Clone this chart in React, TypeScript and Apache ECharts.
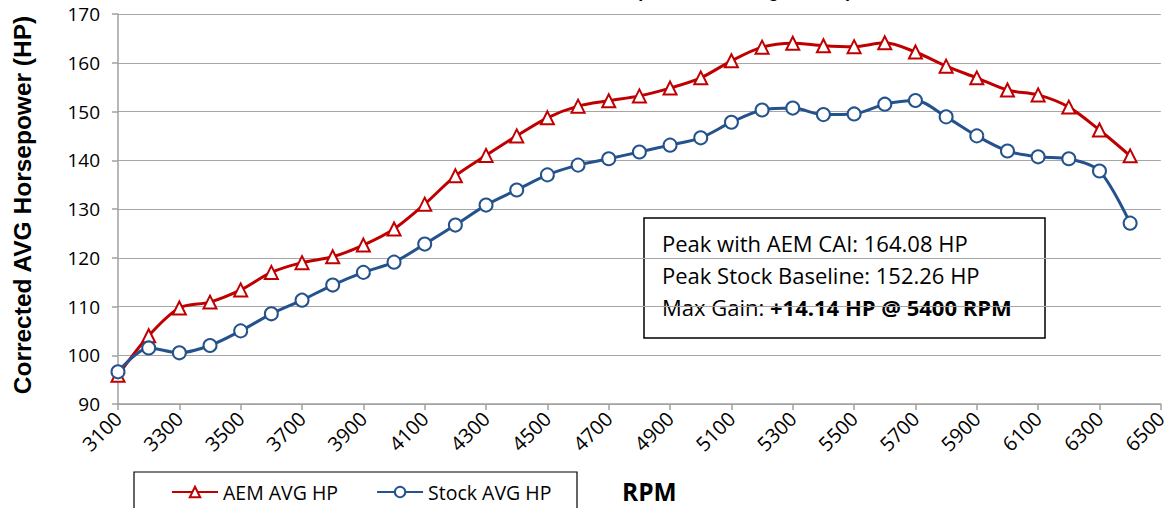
import React, { useEffect, useRef } from "react";
import * as echarts from "echarts";

const rpm: string[] = [
  "3100", "3200", "3300", "3400", "3500", "3600", "3700", "3800", "3900", "4000",
  "4100", "4200", "4300", "4400", "4500", "4600", "4700", "4800", "4900", "5000",
  "5100", "5200", "5300", "5400", "5500", "5600", "5700", "5800", "5900", "6000",
  "6100", "6200", "6300", "6400", "6500",
];

const aemHP: (number | null)[] = [
  95.9, 104.0, 109.7, 110.9, 113.4, 117.0, 119.0, 120.2, 122.6, 125.9,
  131.0, 136.8, 141.0, 145.0, 148.7, 151.1, 152.2, 153.2, 154.8, 156.9,
  160.4, 163.2, 164.0, 163.5, 163.3, 164.08, 162.2, 159.3, 156.9, 154.4,
  153.4, 150.9, 146.2, 140.9, null,
];

const stockHP: (number | null)[] = [
  96.6, 101.5, 100.5, 102.0, 105.0, 108.5, 111.3, 114.4, 117.0, 119.1,
  122.8, 126.7, 130.8, 133.9, 137.0, 139.0, 140.3, 141.7, 143.1, 144.6,
  147.8, 150.3, 150.7, 149.36, 149.5, 151.5, 152.26, 148.9, 145.0, 141.9,
  140.7, 140.3, 137.8, 127.1, null,
];

const yTicks = { min: 90, max: 170, interval: 10 };

const annotationLines: string[] = [
  "Peak with AEM CAI: 164.08 HP",
  "Peak Stock Baseline: 152.26 HP",
];
const gainLabel = "Max Gain: ";
const gainValue = "+14.14 HP @ 5400 RPM";

const RED = "#C00000";
const BLUE = "#24528C";
const FONT = "'Open Sans', 'Noto Sans', sans-serif";

export default function App() {
  const ref = useRef<HTMLDivElement>(null);

  useEffect(() => {
    if (!ref.current) return;
    const chart = echarts.init(ref.current, undefined, { renderer: "svg" });
    chart.setOption({
      animation: false,
      backgroundColor: "#fff",
      grid: { left: 118, right: 7, top: 14, bottom: 104, containLabel: false },
      xAxis: {
        type: "category",
        data: rpm,
        boundaryGap: false,
        axisLine: { show: true, lineStyle: { color: "#A0A0A0", width: 1.5 } },
        axisTick: { show: true, interval: 1, length: 6, lineStyle: { color: "#A0A0A0", width: 1.5 } },
        axisLabel: {
          interval: 1,
          rotate: 45,
          margin: 11,
          fontSize: 20,
          fontFamily: FONT,
          color: "#000",
        },
        splitLine: { show: false },
      },
      yAxis: {
        type: "value",
        min: yTicks.min,
        max: yTicks.max,
        interval: yTicks.interval,
        axisLine: { show: true, lineStyle: { color: "#A0A0A0", width: 1.5 } },
        axisTick: { show: true, length: 6, lineStyle: { color: "#A0A0A0", width: 1.5 } },
        axisLabel: { margin: 18, fontSize: 19, fontFamily: FONT, color: "#000" },
        splitLine: { show: true, lineStyle: { color: "#A6A6A6", width: 1.2 } },
      },
      legend: {
        left: 166,
        top: 477,
        itemWidth: 46,
        itemHeight: 13,
        itemGap: 38,
        textStyle: { fontSize: 19.5, fontFamily: FONT, color: "#000" },
        data: ["AEM AVG HP", "Stock AVG HP"],
      },
      series: [
        {
          name: "AEM AVG HP",
          type: "line",
          data: aemHP,
          smooth: 0.3,
          symbol: "emptyTriangle",
          symbolSize: 13,
          lineStyle: { color: RED, width: 3 },
          itemStyle: { color: RED, borderColor: RED, borderWidth: 2.2 },
        },
        {
          name: "Stock AVG HP",
          type: "line",
          data: stockHP,
          smooth: 0.3,
          symbol: "emptyCircle",
          symbolSize: 13,
          lineStyle: { color: BLUE, width: 3 },
          itemStyle: { color: BLUE, borderColor: BLUE, borderWidth: 2.2 },
        },
      ],
      graphic: [
        {
          type: "text",
          x: 898,
          y: -18,
          style: {
            text: "AEM CAI vs Stock Comparison - Average Horsepower",
            font: "bold 18px 'Liberation Sans', Arial, sans-serif",
            fill: "#000",
            align: "right",
          },
        },
        {
          type: "text",
          x: 22,
          y: 205,
          rotation: Math.PI / 2,
          style: {
            text: "Corrected AVG Horsepower (HP)",
            font: "bold 24.5px 'Liberation Sans', Arial, sans-serif",
            fill: "#000",
            align: "center",
            verticalAlign: "middle",
          },
        },
        {
          type: "rect",
          shape: { x: 134, y: 472, width: 443, height: 50 },
          style: { fill: "none", stroke: "#000", lineWidth: 1.2 },
          z: 5,
        },
        {
          type: "text",
          x: 622,
          y: 491,
          style: {
            text: "RPM",
            font: "bold 24.5px 'Open Sans', sans-serif",
            fill: "#000",
            verticalAlign: "middle",
          },
        },
        {
          type: "group",
          x: 644,
          y: 218,
          z: 10,
          children: [
            {
              type: "rect",
              shape: { x: 0, y: 0, width: 401, height: 120 },
              style: { fill: "#fff", stroke: "#000", lineWidth: 1.5 },
            },
            {
              type: "text",
              x: 18,
              y: 25,
              style: {
                text: annotationLines[0],
                font: `22px ${FONT}`,
                fill: "#000",
                verticalAlign: "middle",
              },
            },
            {
              type: "text",
              x: 18,
              y: 57,
              style: {
                text: annotationLines[1],
                font: `22px ${FONT}`,
                fill: "#000",
                verticalAlign: "middle",
              },
            },
            {
              type: "text",
              x: 18,
              y: 89,
              style: {
                text: `{n|${gainLabel}}{b|${gainValue}}`,
                verticalAlign: "middle",
                rich: {
                  n: { fontSize: 22, fontFamily: FONT, color: "#000" },
                  b: { fontSize: 22, fontFamily: FONT, fontWeight: "bold", color: "#000" },
                },
              },
            },
          ],
        },
      ],
    });
    return () => chart.dispose();
  }, []);

  return <div ref={ref} style={{ width: 1170, height: 508, position: "absolute", left: 0, top: 0 }} />;
}
